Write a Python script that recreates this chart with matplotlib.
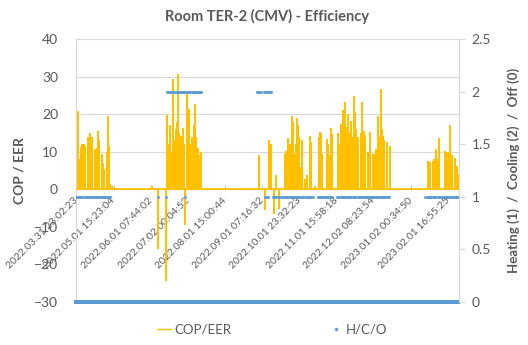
import matplotlib
matplotlib.use("Agg")
import matplotlib.pyplot as plt
from matplotlib.lines import Line2D
import numpy as np
import pandas as pd

plt.rcParams["font.family"] = ["Lato", "DejaVu Sans"]

ORANGE = "#FFC000"
BLUE = "#5B9BD5"
GREY = "#595959"
GRID = "#D9D9D9"

# category labels shown on the x axis (one every ~30.7 days of samples)
tick_labels = ["2022.03.31 23:02:23", "2022.05.01 15:23:04", "2022.06.01 07:44:02",
               "2022.07.02 00:04:52", "2022.08.01 15:00:44", "2022.09.01 07:16:32",
               "2022.10.01 23:32:23", "2022.11.01 15:58:18", "2022.12.02 08:23:54",
               "2023.01.02 00:34:50", "2023.02.01 16:55:25"]
n_days = 316  # daily samples since first timestamp

# daily peak COP/EER, per season (start day, values); all other days are 0
spring_start = 0
spring_cop = [0, 20.8, 0, 8, 11.3, 12, 12, 11.5, 0, 0,
              14, 15, 13.5, 14, 0, 10.7, 10, 11, 15.5, 13,
              0, 9.4, 7, 5.4, 0, 10, 19.5, 11.5, 1.5, 1.0]
summer_start = 60
summer_cop = [0, 0, 1, 0, 0, 0, 0, -15.8, 0, 0,
              0, 0, 0, 0, -24.5, 19.7, 12, 17, 10, 8,
              29.3, 13, 16, 18, 30.6, 15, 14.3, 12, 16.3, 12,
              -9.6, 25.3, 21.4, 21.4, 12, 14, 10, 17, 22.7, 14,
              11, 9, 0, 10]
autumn_start = 148
autumn_cop = [0, 0, 0, 9.2, 0, 0, 0, 0, -5.6, 0,
              0, 13, 0, 12, 0, -6.5, 0, 3.7, 0, -5.2,
              0, 0, 0, 0, 9.4, 10.3, 8, 13.6, 12, 7,
              19.6, 18, 9.4, 12, 19.1, 17, 14, 6, 13, 0,
              0, 2.8, 3.7, 0, 0, 14.3, 12.5, 0, 0, 1,
              0, 0, 14, 15.3, 15, 9.4, 0, 0, 0, 13.4,
              12, 9, 16.2, 14.7, 0, 0, 0, 0, 15, 12,
              17.4, 10, 21, 15, 23.1, 16.5, 20, 15, 12, 18.3,
              14, 24.9, 20.5, 16, 14, 0, 0, 15, 23.1, 15.6,
              14.5, 0, 0, 10, 15.2, 0, 0, 9.4, 9.4, 10.7,
              0, 19.6, 14, 26.7, 16, 14.3, 13, 0, 12.5, 0,
              0, 11.6]
winter_start = 288
winter_cop = [0, 0, 7.6, 0, 7.3, 0, 7.6, 8.1, 0, 10.7,
              8, 13.6, 0, 0, 0, 0, 10.3, 10, 0, 9.8,
              17.1, 0, 9, 0, 8.3, 0, 6.3, 4.1]

# H/C/O state: day ranges with heating (1) / cooling (2) samples; every day has off (0) samples
heat_ranges = [(0, 6), (8, 28), (67, 67), (74, 74), (90, 90), (156, 158), (162, 168),
               (170, 187), (189, 195), (199, 211), (215, 258), (288, 300), (302, 315)]
cool_ranges = [(75, 103), (149, 152), (155, 161)]

# ---- assemble series ----
t = pd.to_datetime(tick_labels, format="%Y.%m.%d %H:%M:%S")
tick_pos = (t - t[0]) / pd.Timedelta(days=1)
days = np.arange(n_days)
cop = np.zeros(n_days)
for start, vals in [(spring_start, spring_cop), (summer_start, summer_cop),
                    (autumn_start, autumn_cop), (winter_start, winter_cop)]:
    cop[start:start + len(vals)] = vals
heat_days = np.concatenate([np.arange(a, b + 1) for a, b in heat_ranges])
cool_days = np.concatenate([np.arange(a, b + 1) for a, b in cool_ranges])

# spikes: each day goes 0 -> peak -> 0
x3 = np.repeat(days, 3)
y3 = np.column_stack([np.zeros(n_days), cop, np.zeros(n_days)]).ravel()

fig = plt.figure(figsize=(5.28, 3.45), dpi=100)
ax = fig.add_axes([76 / 528, 1 - 302 / 345, 383 / 528, 263 / 345])
ax2 = ax.twinx()

line, = ax.plot(x3, y3, color=ORANGE, lw=1.25, solid_joinstyle="bevel", label="COP/EER")
ax.set_xlim(-0.3, n_days - 0.3)
ax.set_ylim(-30, 40)
ax.set_yticks(range(-30, 41, 10))
ax.yaxis.grid(True, color=GRID, lw=0.8)
for gl, v in zip(ax.get_ygridlines(), range(-30, 41, 10)):
    gl.set_visible(v > 0)
ax.set_axisbelow(True)
ax.tick_params(axis="y", length=0, labelsize=10, labelcolor=GREY, pad=13)
ax.spines["bottom"].set_position(("data", 0))
ax.spines["bottom"].set_color(ORANGE)
ax.spines["top"].set_visible(False)
for s in ["left", "right"]:
    ax.spines[s].set_color(GRID)
ax.set_xticks(tick_pos)
ax.set_xticklabels(tick_labels, rotation=45, ha="right", va="center",
                   rotation_mode="anchor", fontsize=7.5, color=GREY)
ax.tick_params(axis="x", direction="in", length=3, color="#BFBFBF", pad=7)

# H/C/O on secondary axis
off, = ax2.plot(days, np.zeros(n_days), ls="none", marker="s", ms=2.4, mew=0,
                color=BLUE, clip_on=False, label="H/C/O")
ax2.plot(heat_days, np.ones(len(heat_days)), ls="none", marker="o", ms=2.1, mew=0, color=BLUE)
ax2.plot(cool_days, np.full(len(cool_days), 2), ls="none", marker="o", ms=2.1, mew=0, color=BLUE)
ax2.set_ylim(0, 2.5)
ax2.set_yticks(np.arange(0, 2.51, 0.5))
ax2.set_yticklabels(["0", "0.5", "1", "1.5", "2", "2.5"])
ax2.tick_params(axis="y", length=4, color=GRID, labelsize=10, labelcolor=GREY, pad=5)
for s in ["top", "bottom", "left"]:
    ax2.spines[s].set_visible(False)
ax2.spines["right"].set_color(GRID)

fig.text(0.506, 0.952, "Room TER-2 (CMV) - Efficiency", ha="center", va="center",
         fontsize=10.5, fontweight="bold", color=GREY)
fig.text(0.036, 0.506, "COP / EER", rotation=90, ha="center", va="center",
         fontsize=10, fontweight="bold", color=GREY)
fig.text(0.972, 0.506, "Heating (1)  /  Cooling (2)  /  Off (0)", rotation=90,
         ha="center", va="center", fontsize=9.5, fontweight="bold", color=GREY)

handles = [Line2D([], [], color=ORANGE, lw=1),
           Line2D([], [], ls="none", marker="o", ms=2.5, mew=0, color=BLUE)]
fig.legend(handles, ["COP/EER", "H/C/O"], loc="center", bbox_to_anchor=(272 / 528, 1 - 330 / 345),
           ncol=2, frameon=False, fontsize=9.5, handlelength=1.1, handletextpad=0.2,
           columnspacing=7.4, labelcolor=GREY)

fig.savefig("out.png", dpi=100)
